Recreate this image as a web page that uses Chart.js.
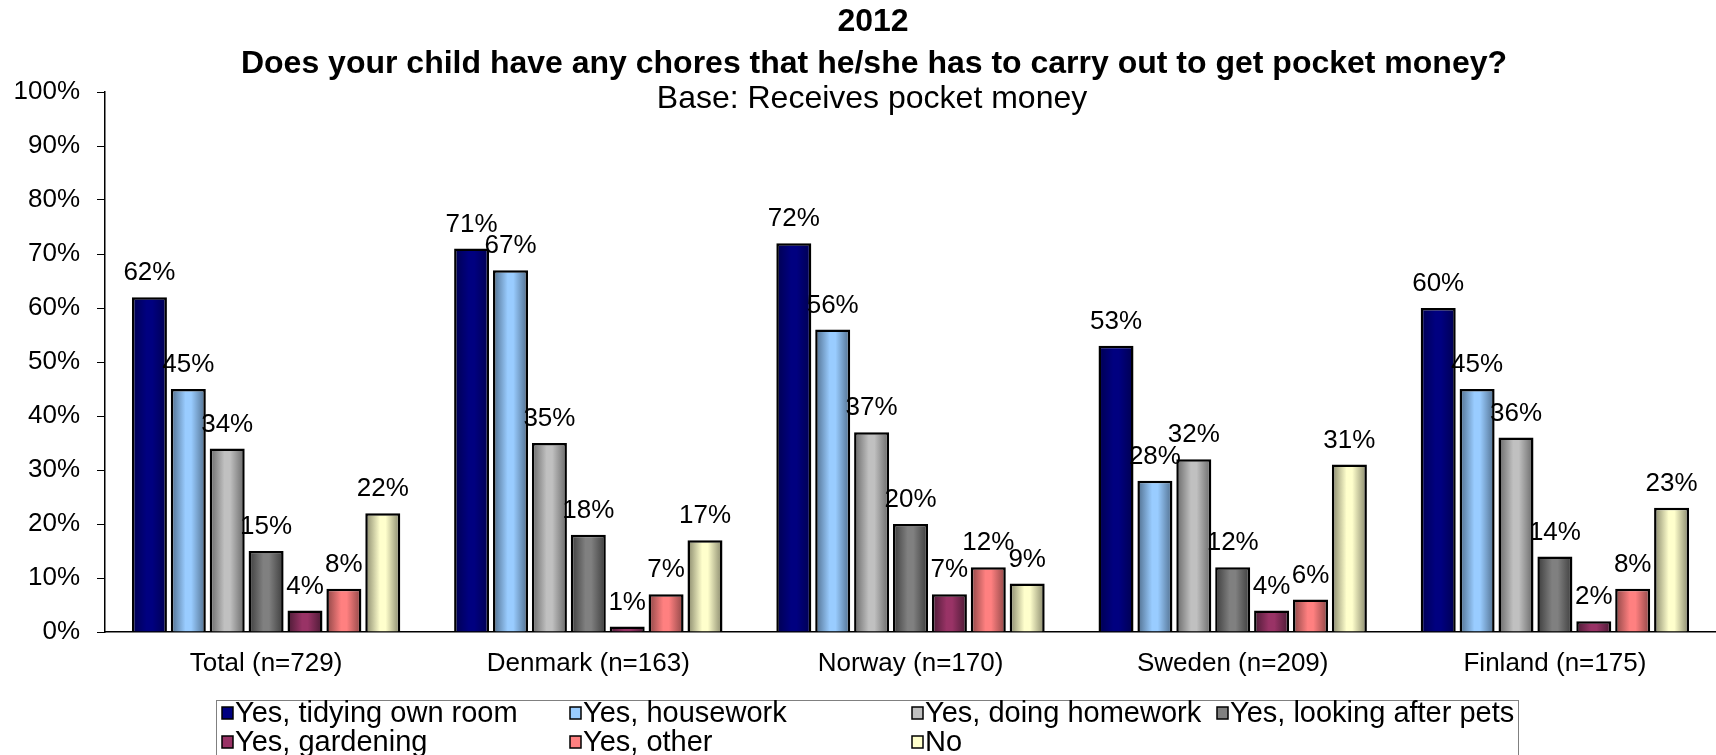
<!DOCTYPE html>
<html>
<head>
<meta charset="utf-8">
<title>Pocket money chores 2012</title>
<script src="https://cdn.jsdelivr.net/npm/chart.js"></script>
<style>
  html, body { margin: 0; padding: 0; background: #fff; }
  #wrap { width: 1716px; height: 755px; }
</style>
</head>
<body>
<div id="wrap"><canvas id="chart" width="1716" height="755"></canvas></div>
<script>
// survey answers per country, % of children who receive pocket money
const categories = ['Total (n=729)', 'Denmark (n=163)', 'Norway (n=170)', 'Sweden (n=209)', 'Finland (n=175)'];
const seriesLabels = [
  'Yes, tidying own room', 'Yes, housework', 'Yes, doing homework',
  'Yes, looking after pets', 'Yes, gardening', 'Yes, other', 'No'
];
const tidyingRoom = [62, 71, 72, 53, 60];
const housework   = [45, 67, 56, 28, 45];
const homework    = [34, 35, 37, 32, 36];
const pets        = [15, 18, 20, 12, 14];
const gardening   = [4, 1, 7, 4, 2];
const other       = [8, 7, 12, 6, 8];
const noChores    = [22, 17, 9, 31, 23];
const yTicks = [0, 10, 20, 30, 40, 50, 60, 70, 80, 90, 100];

// centre colour and shaded edge colour for each series
const fills = ['#000080', '#99ccff', '#c0c0c0', '#808080', '#993366', '#ff8080', '#ffffcc'];
const edges = ['#000050', '#4f6d8c', '#686868', '#3c3c3c', '#4a1a34', '#8c4545', '#86866a'];

const FONT = '"Liberation Sans", Arial, sans-serif';

const allValues = [tidyingRoom, housework, homework, pets, gardening, other, noChores];

// horizontal cylinder-like shading on every bar
const barShading = {
  id: 'barShading',
  beforeDatasetDraw(chart, args) {
    const ctx = chart.ctx;
    const i = args.index;
    args.meta.data.forEach(bar => {
      const left = bar.x - bar.width / 2;
      const right = bar.x + bar.width / 2;
      const g = ctx.createLinearGradient(left, 0, right, 0);
      g.addColorStop(0, edges[i]);
      g.addColorStop(0.42, fills[i]);
      g.addColorStop(0.58, fills[i]);
      g.addColorStop(1, edges[i]);
      bar.options = Object.assign({}, bar.options, { backgroundColor: g });
    });
  }
};

// value labels above bars
const valueLabels = {
  id: 'valueLabels',
  afterDatasetsDraw(chart) {
    const ctx = chart.ctx;
    ctx.save();
    ctx.font = '26px ' + FONT;
    ctx.fillStyle = '#000';
    ctx.textAlign = 'center';
    ctx.textBaseline = 'bottom';
    chart.data.datasets.forEach((ds, di) => {
      chart.getDatasetMeta(di).data.forEach((bar, idx) => {
        ctx.fillText(ds.data[idx] + '%', bar.x, bar.y - 11);
      });
    });
    ctx.restore();
  }
};

// three-line heading
const heading = {
  id: 'heading',
  afterDraw(chart) {
    const ctx = chart.ctx;
    ctx.save();
    ctx.fillStyle = '#000';
    ctx.textAlign = 'center';
    ctx.textBaseline = 'middle';
    ctx.font = 'bold 32px ' + FONT;
    ctx.fillText('2012', 873, 22);
    ctx.fillText('Does your child have any chores that he/she has to carry out to get pocket money?', 874, 64);
    ctx.font = '32px ' + FONT;
    ctx.fillText('Base: Receives pocket money', 872, 99);
    ctx.restore();
  }
};

// boxed legend, four columns
const boxLegend = {
  id: 'boxLegend',
  afterDraw(chart) {
    const ctx = chart.ctx;
    const cols = [222, 570, 912, 1217];
    const rows = [713, 742];
    ctx.save();
    ctx.strokeStyle = '#808080';
    ctx.lineWidth = 1;
    ctx.strokeRect(216.5, 700.5, 1302, 80);
    ctx.font = '29px ' + FONT;
    ctx.textBaseline = 'middle';
    ctx.textAlign = 'left';
    chart.data.datasets.forEach((ds, i) => {
      const x = cols[i % 4];
      const y = rows[Math.floor(i / 4)];
      ctx.fillStyle = fills[i];
      ctx.fillRect(x, y - 6, 11, 12);
      ctx.strokeStyle = '#000';
      ctx.lineWidth = 1.5;
      ctx.strokeRect(x, y - 6, 11, 12);
      ctx.fillStyle = '#000';
      ctx.fillText(ds.label, x + 13, y + 1);
    });
    ctx.restore();
  }
};

const datasets = allValues.map((vals, i) => ({
  label: seriesLabels[i],
  data: vals,
  backgroundColor: fills[i],
  borderColor: '#000',
  borderWidth: 2.5,
  categoryPercentage: 0.845,
  barPercentage: 0.9
}));

new Chart(document.getElementById('chart'), {
  type: 'bar',
  data: { labels: categories, datasets: datasets },
  options: {
    responsive: false,
    animation: false,
    layout: { padding: { top: 92, right: 0, bottom: 0, left: 0 } },
    plugins: {
      legend: { display: false },
      title: { display: false },
      tooltip: { enabled: false }
    },
    scales: {
      x: {
        grid: { display: false, drawTicks: false },
        border: { color: '#000', width: 1.5 },
        ticks: { color: '#000', padding: 16, font: { family: FONT, size: 26 }, maxRotation: 0 },
        afterFit(scale) { scale.height = 123; }
      },
      y: {
        min: 0,
        max: 100,
        afterBuildTicks(scale) { scale.ticks = yTicks.map(v => ({ value: v })); },
        grid: { drawOnChartArea: false, drawTicks: true, tickLength: 8, color: '#000' },
        border: { color: '#000', width: 1.5 },
        ticks: {
          color: '#000',
          padding: 17,
          font: { family: FONT, size: 26 },
          callback: v => v + '%'
        },
        afterFit(scale) { scale.width = 105; }
      }
    }
  },
  plugins: [barShading, valueLabels, heading, boxLegend]
});
</script>
</body>
</html>
